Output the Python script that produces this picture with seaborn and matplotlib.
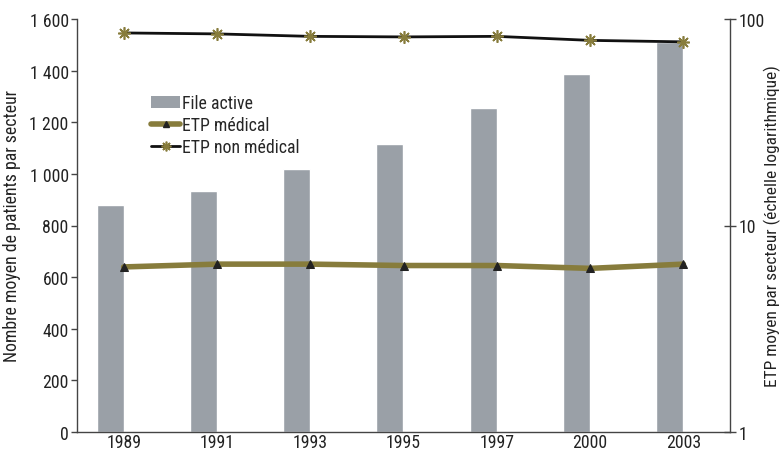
import numpy as np
import pandas as pd
import matplotlib
matplotlib.use("Agg")
import matplotlib.pyplot as plt
from matplotlib import font_manager
from matplotlib.ticker import FuncFormatter, FixedLocator, NullLocator
from matplotlib.lines import Line2D
from matplotlib.patches import Patch
import seaborn as sns

# Data
years = ["1989", "1991", "1993", "1995", "1997", "2000", "2003"]
file_active = [880, 935, 1020, 1115, 1255, 1385, 1510]
etp_medical = [6.3, 6.5, 6.5, 6.4, 6.4, 6.2, 6.5]
etp_non_medical = [85.6, 84.7, 82.4, 81.9, 82.4, 78.8, 77.5]

sns.set_style("white")

# condensed font if one is installed, otherwise something close
installed = {f.name for f in font_manager.fontManager.ttflist}
narrow = [n for n in ["Liberation Sans Narrow", "Roboto Condensed", "Open Sans Condensed",
                      "DejaVu Sans Condensed"] if n in installed]
if narrow:
    plt.rcParams["font.family"] = [narrow[0], "DejaVu Sans"]
    fs = 12.8
else:
    plt.rcParams["font.family"] = ["Roboto", "DejaVu Sans"]
    fs = 10.5
plt.rcParams["font.size"] = fs

bar_col = "#9aa0a7"
olive = "#877c3c"
axis_col = "#444444"
text_col = "#222222"

df = pd.DataFrame({"annee": years, "file": file_active,
                   "med": etp_medical, "nonmed": etp_non_medical})
df["pos"] = np.arange(len(years))

fig = plt.figure(figsize=(7.81, 4.52), dpi=100)
ax = fig.add_axes([77 / 781, 19 / 452, 653 / 781, 413 / 452])

sns.barplot(data=df, x="annee", y="file", color=bar_col, width=0.29,
            saturation=1, ax=ax, zorder=1)
# bars sit on the left half of each category
for p in ax.patches:
    p.set_x(p.get_x() - p.get_width() / 2)

ax.set_xlim(-0.5, len(years) - 0.5)
ax.set_ylim(0, 1600)
ax.set_yticks(range(0, 1601, 200))
ax.yaxis.set_major_formatter(FuncFormatter(lambda v, _: f"{v:,.0f}".replace(",", " ")))
ax.set_xlabel("")
ax.set_ylabel("Nombre moyen de patients par secteur", fontsize=fs, color=text_col)
ax.yaxis.set_label_coords(-0.085, 0.5)
ax.xaxis.set_minor_locator(FixedLocator(np.arange(-0.5, len(years), 1.0)))
ax.tick_params(axis="x", which="major", length=0, pad=1, labelsize=fs, colors=text_col)
ax.tick_params(axis="x", which="minor", direction="inout", length=7, width=1, color=axis_col)
ax.tick_params(axis="y", direction="out", length=4, width=1, color=axis_col,
               labelsize=fs, labelcolor=text_col, pad=2)
for s in ["top", "right"]:
    ax.spines[s].set_visible(False)
for s in ["left", "bottom"]:
    ax.spines[s].set_color(axis_col)
    ax.spines[s].set_linewidth(1)

ax2 = ax.twinx()
sns.lineplot(data=df, x="pos", y="med", color=olive, linewidth=4,
             marker="^", markersize=6, markerfacecolor="#222222",
             markeredgecolor="#222222", ax=ax2, zorder=3)
sns.lineplot(data=df, x="pos", y="nonmed", color="#111111", linewidth=2,
             marker=(8, 2, 0), markersize=9, markeredgecolor=olive,
             markeredgewidth=1.2, ax=ax2, zorder=3)
ax2.set_yscale("log")
ax2.set_ylim(1, 100)
ax2.yaxis.set_major_locator(FixedLocator([1, 10, 100]))
ax2.yaxis.set_minor_locator(NullLocator())
ax2.yaxis.set_major_formatter(FuncFormatter(lambda v, _: f"{v:g}"))
ax2.set_xlim(-0.5, len(years) - 0.5)
ax2.set_xlabel("")
ax2.set_ylabel("ETP moyen par secteur (échelle logarithmique)", fontsize=fs - 0.3,
               color=text_col)
ax2.yaxis.set_label_coords(1.052, 0.5)
ax2.tick_params(axis="y", direction="inout", length=8, width=1, color=axis_col,
                labelsize=fs, labelcolor=text_col, pad=2)
for s in ["top", "left", "bottom"]:
    ax2.spines[s].set_visible(False)
ax2.spines["right"].set_color(axis_col)
ax2.spines["right"].set_linewidth(1)

handles = [
    Patch(facecolor=bar_col, edgecolor="none"),
    Line2D([], [], color=olive, linewidth=4, marker="^", markersize=5,
           markerfacecolor="#222222", markeredgecolor="#222222"),
    Line2D([], [], color="#111111", linewidth=2, marker=(8, 2, 0), markersize=7,
           markeredgecolor=olive, markeredgewidth=1.2),
]
labels = ["File active", "ETP médical", "ETP non médical"]
ax2.legend(handles, labels, loc="upper left", bbox_to_anchor=(0.103, 0.835),
           frameon=False, fontsize=fs, handlelength=1.6, handletextpad=0.15,
           labelspacing=0.22, borderaxespad=0)

fig.savefig("out.png", dpi=100)
